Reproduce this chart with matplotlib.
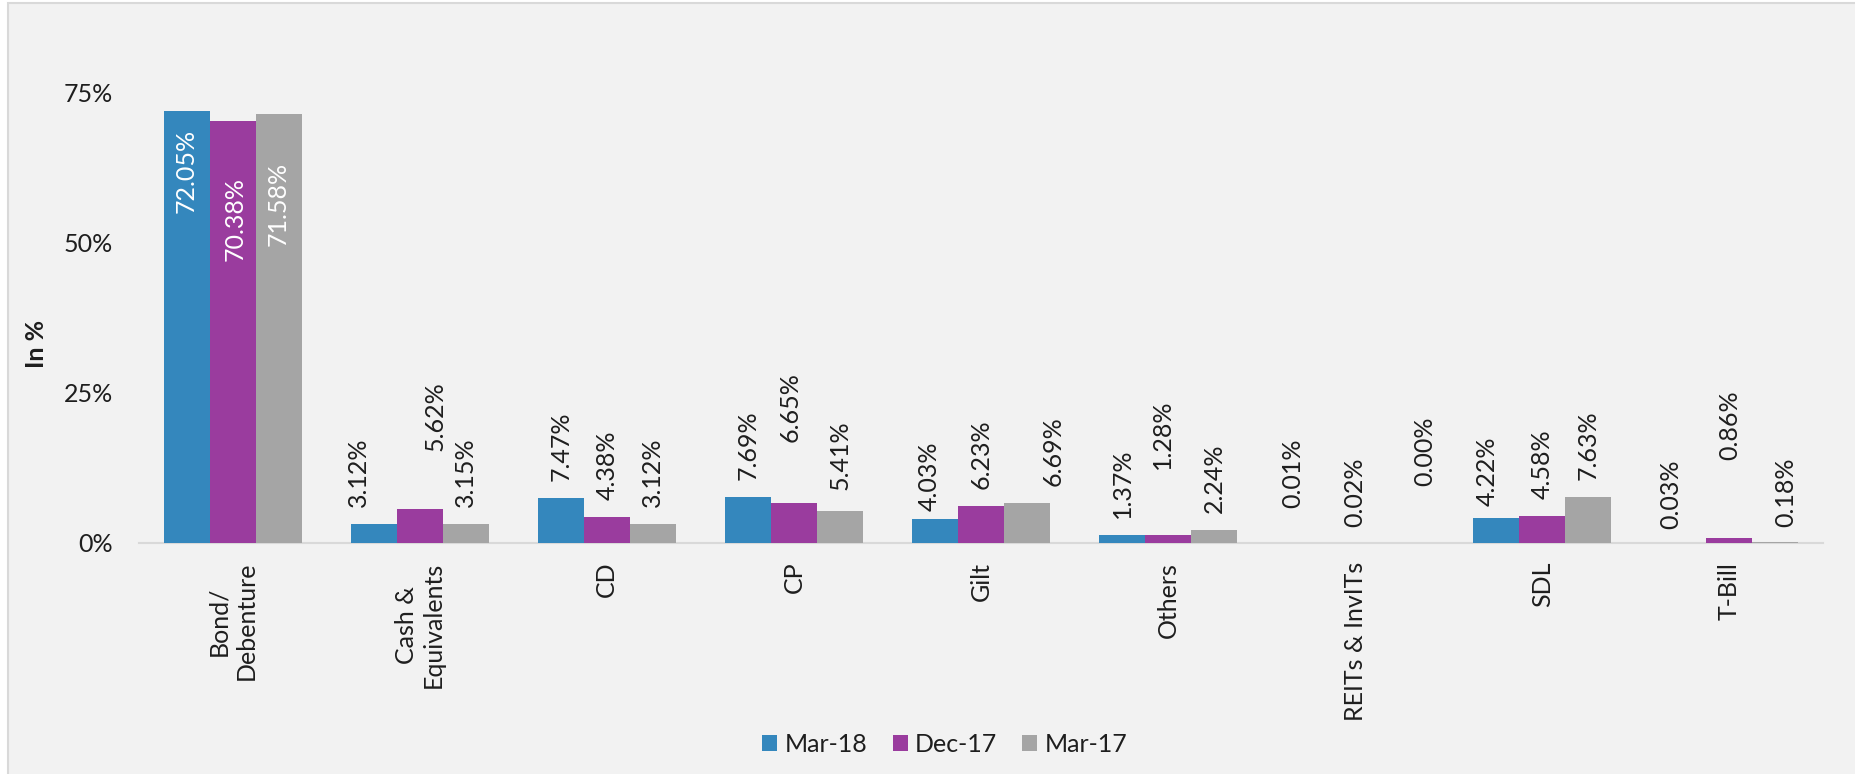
import numpy as np
import matplotlib
matplotlib.use("Agg")
import matplotlib.pyplot as plt
from matplotlib.patches import Rectangle
from matplotlib.ticker import FuncFormatter

plt.rcParams["font.family"] = ["Lato", "DejaVu Sans"]

# Data (% of portfolio)
CATEGORIES = ["Bond/\nDebenture", "Cash &\nEquivalents", "CD", "CP", "Gilt",
              "Others", "REITs & InvITs", "SDL", "T-Bill"]
SERIES = ["Mar-18", "Dec-17", "Mar-17"]
MAR18 = [72.05, 3.12, 7.47, 7.69, 4.03, 1.37, 0.01, 4.22, 0.03]
DEC17 = [70.38, 5.62, 4.38, 6.65, 6.23, 1.28, 0.02, 4.58, 0.86]
MAR17 = [71.58, 3.15, 3.12, 5.41, 6.69, 2.24, 0.00, 7.63, 0.18]
Y_TICKS = [0, 25, 50, 75]

COLORS = ["#3487bd", "#9a3c9e", "#a5a5a5"]
TXT = "#1e1e1e"

# label placement (pixels): default gap above bar, plus Excel-like nudges
GAP = 17
NUDGE = {  # (category, series): (dx, gap)
    (1, 0): (-15, 17), (1, 1): (15, 58),
    (3, 1): (-4, 61), (3, 2): (0, 21),
    (4, 0): (-6, 8), (4, 2): (26, 17),
    (5, 1): (-6, 66),
    (6, 0): (-16, 35), (6, 1): (0, 16), (6, 2): (23, 57),
    (7, 0): (-9, 12),
    (8, 0): (-13, 14), (8, 1): (0, 78), (8, 2): (10, 15),
}
INSIDE = {(0, 0): (0, 18), (0, 1): (3, 56), (0, 2): (0, 48)}

W, H = 1855, 774
fig = plt.figure(figsize=(W / 100, H / 100), dpi=100, facecolor="white")
fig.patches.append(Rectangle((7.5 / W, -0.05), 1.1, 1 - 2.5 / H + 0.05,
                             transform=fig.transFigure, facecolor="#f2f2f2",
                             edgecolor="#d9d9d9", lw=1.5, zorder=-10))

ax = fig.add_axes([139 / W, 231 / H, 1684 / W, 450 / H])
ax.set_facecolor("none")

x = np.arange(len(CATEGORIES))
bw = 0.246
for k, (vals, col) in enumerate(zip([MAR18, DEC17, MAR17], COLORS)):
    xs = x + (k - 1) * bw
    ax.bar(xs, vals, width=bw, color=col, label=SERIES[k], zorder=2)
    for i, v in enumerate(vals):
        if (i, k) in INSIDE:
            dx, g = INSIDE[(i, k)]
            ax.annotate(f"{v:.2f}%", (xs[i], v), xytext=(dx, -g),
                        textcoords="offset pixels", rotation=90, ha="center",
                        va="top", fontsize=18, color="white", zorder=3)
        else:
            dx, g = NUDGE.get((i, k), (0, GAP))
            ax.annotate(f"{v:.2f}%", (xs[i], v), xytext=(dx, g),
                        textcoords="offset pixels", rotation=90, ha="center",
                        va="bottom", fontsize=18, color=TXT, zorder=3)

ax.set_xlim(-0.5, len(CATEGORIES) - 0.5)
ax.set_ylim(0, 75)
ax.set_yticks(Y_TICKS)
ax.yaxis.set_major_formatter(FuncFormatter(lambda v, p: f"{v:.0f}%"))
ax.set_xticks(x)
ax.set_xticklabels(CATEGORIES, rotation=90, ha="center", va="top",
                   multialignment="center")
ax.tick_params(axis="y", length=0, pad=18.5, labelsize=18, labelcolor=TXT)
ax.tick_params(axis="x", length=0, pad=13.5, labelsize=18, labelcolor=TXT)
for s in ["top", "right", "left"]:
    ax.spines[s].set_visible(False)
ax.spines["bottom"].set_color("#d9d9d9")
ax.spines["bottom"].set_linewidth(1.5)
ax.spines["bottom"].set_zorder(1)

fig.text(37 / W, 1 - 344 / H, "In %", rotation=90, ha="center", va="center",
         fontsize=18, fontweight="bold", color=TXT)

handles, labels = ax.get_legend_handles_labels()
fig.legend(handles, labels, loc="center", bbox_to_anchor=(945 / W, 1 - 744 / H),
           ncol=3, frameon=False, fontsize=18, handlelength=0.6,
           handleheight=0.6, handletextpad=0.3, columnspacing=1.0,
           labelcolor=TXT)

fig.savefig("out.png", dpi=100, facecolor="white")
